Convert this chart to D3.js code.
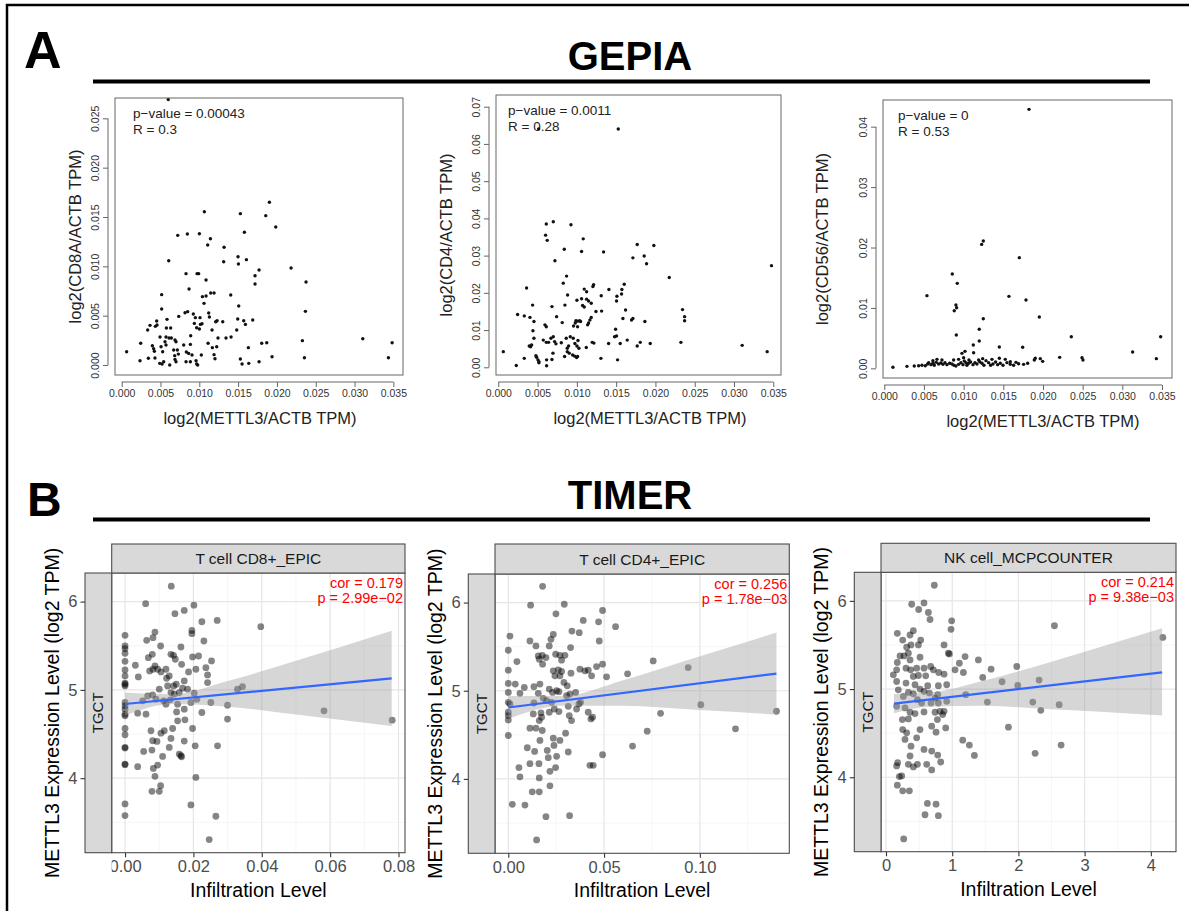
<!DOCTYPE html>
<html>
<head>
<meta charset="utf-8">
<title>METTL3 - GEPIA / TIMER</title>
<script src="https://cdn.jsdelivr.net/npm/d3@7/dist/d3.min.js"></script>
<style>
  body { margin: 0; background: #fff; }
  text { font-family: "Liberation Sans", Arial, Helvetica, sans-serif; }
</style>
</head>
<body>
<svg id="fig" width="1189" height="911"></svg>
<script>
// ---------- data: GEPIA (x = log2(METTL3/ACTB TPM), y = marker) ----------
var gepiaCD8 = [[0.0060,0.0269],[0.01903,0.01649],[0.01065,0.01554],[0.01529,0.01534],[0.01856,0.01514],[0.01985,0.01399],[0.01581,0.01345],[0.00722,0.01314],[0.00846,0.01328],[0.01001,0.01331],[0.01143,0.0128],[0.01108,0.01216],[0.01319,0.01193],[0.01314,0.01047],[0.01499,0.01098],[0.01504,0.01024],[0.01607,0.01068],[0.00606,0.01057],[0.0177,0.00963],[0.02182,0.00983],[0.00829,0.00926],[0.00971,0.00926],[0.00992,0.00926],[0.01718,0.00905],[0.01718,0.00821],[0.02375,0.00841],[0.01087,0.00861],[0.00868,0.0077],[0.00515,0.00713],[0.0104,0.00693],[0.01087,0.00699],[0.01147,0.0073],[0.0119,0.0073],[0.01405,0.00709],[0.01061,0.00625],[0.01508,0.00598],[0.00515,0.00568],[0.02367,0.00544],[0.00816,0.0053],[0.0085,0.00541],[0.00735,0.00493],[0.00923,0.00517],[0.01121,0.00527],[0.0113,0.00486],[0.01229,0.00449],[0.01211,0.00439],[0.01302,0.00439],[0.01495,0.00466],[0.01572,0.00449],[0.01594,0.00412],[0.01688,0.00456],[0.00949,0.0048],[0.01009,0.0048],[0.01035,0.00419],[0.00936,0.00422],[0.00966,0.00378],[0.01001,0.00365],[0.01014,0.00412],[0.01164,0.00355],[0.00451,0.00446],[0.00455,0.00405],[0.00434,0.00392],[0.00365,0.00402],[0.00335,0.00355],[0.00584,0.00463],[0.00576,0.00375],[0.00631,0.00375],[0.00571,0.00284],[0.00494,0.00284],[0.0061,0.00274],[0.0064,0.00274],[0.00687,0.00253],[0.007,0.00236],[0.00558,0.00236],[0.00571,0.00203],[0.00889,0.00297],[0.01241,0.00274],[0.01344,0.00274],[0.01409,0.00284],[0.01482,0.00355],[0.02328,0.00247],[0.03106,0.00267],[0.03484,0.00226],[0.00245,0.0022],[0.00064,0.00135],[0.00395,0.00196],[0.00412,0.00166],[0.00507,0.00186],[0.00799,0.00203],[0.00885,0.00209],[0.01113,0.0022],[0.01224,0.00186],[0.01168,0.00176],[0.01632,0.00176],[0.01804,0.0022],[0.01869,0.00226],[0.00528,0.00135],[0.00421,0.00139],[0.0067,0.00152],[0.00717,0.00152],[0.0073,0.00111],[0.00683,0.00095],[0.00833,0.00132],[0.00863,0.00118],[0.00906,0.00101],[0.01026,0.00101],[0.0119,0.00105],[0.01202,0.00064],[0.01937,0.00084],[0.02354,0.00074],[0.03436,0.00074],[0.00344,0.00068],[0.00236,0.00044],[0.00429,0.00071],[0.0049,0.00017],[0.0052,0.0001],[0.00541,0.00034],[0.00619,0.0],[0.00687,0.00057],[0.007,0.00034],[0.00829,0.00034],[0.00885,0.00034],[0.00966,0.0001],[0.00979,0.0],[0.00958,0.00044],[0.01529,0.00061],[0.01551,0.0001],[0.01637,0.00017],[0.0177,0.00034]];

var gepiaCD4 = [[0.01527,0.0640],[0.00513,0.0640],[0.00925,0.0383],[0.0070,0.0391],[0.00611,0.0385],[0.00602,0.0355],[0.00623,0.0341],[0.01081,0.0345],[0.0084,0.0317],[0.0106,0.0311],[0.0134,0.0310],[0.00721,0.0286],[0.01768,0.0330],[0.0198,0.0327],[0.01713,0.0294],[0.01857,0.0299],[0.01887,0.0278],[0.03477,0.0273],[0.02176,0.0241],[0.00869,0.0245],[0.00827,0.0226],[0.0036,0.0213],[0.00882,0.0194],[0.01094,0.0210],[0.01124,0.0203],[0.01204,0.0217],[0.01213,0.0222],[0.01408,0.0209],[0.01603,0.0223],[0.01573,0.0209],[0.01569,0.0197],[0.0151,0.0191],[0.01505,0.0178],[0.0131,0.0192],[0.01001,0.0180],[0.0106,0.0184],[0.01124,0.0183],[0.01149,0.0178],[0.01183,0.0172],[0.01073,0.0166],[0.01094,0.0162],[0.01243,0.0150],[0.01315,0.0151],[0.0162,0.0154],[0.02345,0.0155],[0.02371,0.0136],[0.02371,0.0125],[0.01713,0.0131],[0.01696,0.0127],[0.01586,0.0131],[0.01866,0.0123],[0.00437,0.0167],[0.00683,0.0163],[0.00848,0.0167],[0.00246,0.0142],[0.00331,0.0138],[0.00403,0.0134],[0.00454,0.0123],[0.00742,0.0136],[0.00814,0.0120],[0.00988,0.0125],[0.01009,0.0124],[0.01035,0.0125],[0.0098,0.0119],[0.01047,0.0123],[0.01166,0.0127],[0.01183,0.0134],[0.01149,0.0119],[0.01137,0.0114],[0.01009,0.0109],[0.00958,0.0111],[0.00594,0.0114],[0.00611,0.0109],[0.00441,0.0098],[0.00454,0.0078],[0.00394,0.0057],[0.00411,0.0055],[0.00424,0.0060],[0.00573,0.0073],[0.00611,0.0067],[0.0064,0.0067],[0.0067,0.0078],[0.0070,0.0082],[0.00717,0.0069],[0.00734,0.0063],[0.00802,0.0066],[0.00865,0.0078],[0.00916,0.0082],[0.00895,0.0057],[0.00954,0.0078],[0.00975,0.0064],[0.01014,0.0072],[0.01001,0.0057],[0.00878,0.0051],[0.00878,0.0042],[0.01196,0.0067],[0.01217,0.0065],[0.01404,0.0064],[0.0148,0.0082],[0.01505,0.0084],[0.01493,0.0102],[0.01552,0.0064],[0.01641,0.0073],[0.01768,0.0057],[0.01807,0.0067],[0.01934,0.0064],[0.02324,0.0067],[0.03104,0.0059],[0.03422,0.0042],[0.00064,0.0042],[0.00229,0.0005],[0.00331,0.0024],[0.00479,0.0031],[0.00488,0.0027],[0.00505,0.0020],[0.00517,0.0015],[0.00517,0.0012],[0.00615,0.0004],[0.00615,0.0020],[0.00683,0.0021],[0.00696,0.0038],[0.00844,0.0029],[0.00903,0.0038],[0.00946,0.0033],[0.00971,0.0030],[0.00997,0.0026],[0.01009,0.0029],[0.01026,0.0051],[0.0112,0.0053],[0.01306,0.0024],[0.01518,0.0020]];

var gepiaCD56 = [[0.01824,0.04287],[0.01248,0.02108],[0.01227,0.02052],[0.01702,0.01832],[0.00857,0.01561],[0.0092,0.01407],[0.00538,0.01203],[0.01571,0.01192],[0.01786,0.01131],[0.00903,0.01048],[0.00912,0.01004],[0.00882,0.00954],[0.01248,0.00822],[0.01954,0.0085],[0.01197,0.00646],[0.00908,0.00552],[0.01197,0.00452],[0.01122,0.00386],[0.02357,0.00524],[0.03483,0.00524],[0.0145,0.00353],[0.01744,0.00348],[0.0313,0.0027],[0.03429,0.0016],[0.0221,0.00182],[0.02492,0.00177],[0.02504,0.00138],[0.01966,0.0016],[0.01996,0.00116],[0.01891,0.00138],[0.01903,0.00166],[0.00979,0.00248],[0.01017,0.00281],[0.01126,0.00259],[0.00874,0.00138],[0.00109,0.00017],[0.00286,0.00033],[0.00378,0.00039],[0.00433,0.00044],[0.00475,0.0005],[0.00517,0.00044],[0.00546,0.00072],[0.00559,0.00094],[0.00588,0.00061],[0.00613,0.00083],[0.0063,0.0005],[0.00655,0.00099],[0.00685,0.00072],[0.00714,0.00088],[0.00739,0.00066],[0.00765,0.00094],[0.0079,0.00061],[0.00824,0.00083],[0.00853,0.00072],[0.00878,0.0005],[0.00903,0.00039],[0.00937,0.00066],[0.00966,0.00094],[0.00992,0.00061],[0.01008,0.00121],[0.01029,0.00094],[0.01042,0.0005],[0.01063,0.00083],[0.01088,0.00105],[0.01118,0.00061],[0.01143,0.00094],[0.01168,0.00072],[0.01202,0.0011],[0.01231,0.00083],[0.01256,0.0005],[0.01282,0.00127],[0.01315,0.00094],[0.0134,0.0005],[0.0137,0.00072],[0.01403,0.00105],[0.01429,0.00061],[0.01462,0.00083],[0.01496,0.0005],[0.01525,0.00149],[0.01546,0.00094],[0.01588,0.00066],[0.0163,0.0005],[0.0166,0.00099],[0.01693,0.00077],[0.01756,0.00066],[0.01807,0.00083],[0.00613,0.00127],[0.00664,0.00149],[0.00727,0.00138],[0.00937,0.00149],[0.0100,0.00177],[0.01067,0.00138],[0.01189,0.00138],[0.0124,0.0016],[0.01357,0.00149],[0.0145,0.00166],[0.01588,0.0011]];

var gepiaStatsCD8 = ['p\u2212value = 0.00043', 'R = 0.3'];
var gepiaStatsCD4 = ['p\u2212value = 0.0011', 'R = 0.28'];
var gepiaStatsCD56 = ['p\u2212value = 0', 'R = 0.53'];

var gepiaXTicks = [0, 0.005, 0.010, 0.015, 0.020, 0.025, 0.030, 0.035];
var gepiaYTicksCD8 = [0, 0.005, 0.010, 0.015, 0.020, 0.025];
var gepiaYTicksCD4 = [0, 0.01, 0.02, 0.03, 0.04, 0.05, 0.06, 0.07];
var gepiaYTicksCD56 = [0, 0.01, 0.02, 0.03, 0.04];

// ---------- data: TIMER (x = infiltration level, y = METTL3 log2 TPM) ----------
var timerCD8 = [[0,5.618],[0,5.497],[0,5.467],[0,5.414],[0,5.324],[0,5.226],[0,5.158],[0,5.075],[0,5.064],[0,5.045],[0,4.857],[0,4.819],[0,4.782],[0,4.725],[0,4.706],[0,4.563],[0,4.492],[0,4.349],[0,4.341],[0,4.16],[0,4.153],[0,3.708],[0,3.576],[0.01353,6.175],[0.00603,5.976],[0.0146,5.863],[0.01732,5.9],[0.02015,5.96],[0.02248,5.772],[0.02696,5.787],[0.03971,5.716],[0.01956,5.674],[0.01956,5.637],[0.02307,5.554],[0.00633,5.561],[0.00818,5.591],[0.00876,5.655],[0.01041,5.497],[0.01635,5.486],[0.00302,5.279],[0.00389,5.147],[0.00681,5.365],[0.00798,5.403],[0.0072,5.215],[0.00818,5.234],[0.00876,5.271],[0.00954,5.234],[0.01051,5.203],[0.01197,5.234],[0.01343,5.403],[0.01421,5.392],[0.0147,5.347],[0.01655,5.29],[0.01859,5.203],[0.01976,5.373],[0.02151,5.384],[0.02073,5.234],[0.02365,5.252],[0.02414,5.169],[0.0253,5.328],[0.02414,5.083],[0.01216,5.132],[0.01294,5.158],[0.01421,5.045],[0.01499,5.064],[0.01732,5.102],[0.01002,5.008],[0.01246,5.045],[0.01343,4.97],[0.0144,4.951],[0.01586,4.97],[0.01684,5.019],[0.0183,5.008],[0.02024,4.962],[0.02102,4.895],[0.01927,4.857],[0.02248,4.744],[0.02511,4.857],[0.02998,4.827],[0.0329,5.008],[0.03436,5.038],[0.02998,4.669],[0.0582,4.763],[0.07815,4.657],[0.0037,4.736],[0.00516,4.876],[0.00662,4.932],[0.00808,4.944],[0.00905,4.895],[0.01129,4.876],[0.01197,4.838],[0.01324,4.887],[0.01538,4.838],[0.01509,4.751],[0.01538,4.65],[0.01732,4.782],[0.01752,4.661],[0.00613,4.725],[0.01392,4.563],[0.01976,4.563],[0.00759,4.537],[0.01051,4.51],[0.01148,4.537],[0.01343,4.45],[0.01732,4.42],[0.00808,4.424],[0.00934,4.416],[0.01294,4.348],[0.02053,4.367],[0.02706,4.367],[0.00545,4.303],[0.00788,4.318],[0.011,4.247],[0.01586,4.273],[0.01635,4.254],[0.01655,4.243],[0.0037,4.13],[0.00827,4.111],[0.00954,4.149],[0.00876,4.021],[0.02073,4.009],[0.00788,3.851],[0.01002,3.851],[0.01041,3.915],[0.01927,3.697],[0.02657,3.569],[0.02462,3.305]];

var timerCD4 = [[0.01791,6.184],[0.01165,5.97],[0.02922,5.981],[0.04922,5.91],[0.02487,5.872],[0.03913,5.797],[0.04713,5.782],[0.056,5.726],[0.03322,5.677],[0.03704,5.658],[0.00087,5.62],[0.02348,5.639],[0.02226,5.583],[0.0113,5.564],[0.01443,5.508],[0.02139,5.508],[0.03252,5.489],[0.04748,5.564],[0,5.459],[0.0247,5.414],[0.02696,5.402],[0.02957,5.402],[0.01565,5.395],[0.01774,5.402],[0.01965,5.376],[0.01617,5.357],[0.00452,5.331],[0.01791,5.301],[0.02783,5.346],[0.07565,5.338],[0.09391,5.263],[0,5.233],[0.03739,5.244],[0.04,5.226],[0.04174,5.233],[0.04609,5.274],[0.04922,5.301],[0.0513,5.158],[0.06226,5.192],[0.02348,5.226],[0.02609,5.237],[0.02783,5.218],[0.02435,5.169],[0.02696,5.169],[0.0327,5.199],[0.04348,5.169],[0,5.083],[0.00365,5.075],[0.00835,5.038],[0.01339,5.045],[0.01652,5.075],[0.01565,4.97],[0.00609,4.97],[0,4.981],[0.02139,5.019],[0.02313,4.981],[0.02522,5.0],[0.02643,4.989],[0.02904,5.094],[0.03078,5.056],[0.03217,4.962],[0.03513,4.981],[0.03043,4.944],[0,4.868],[0.00087,4.85],[0.01339,4.861],[0.01826,4.914],[0.02,4.887],[0.02261,4.868],[0.03687,4.85],[0.03774,4.868],[0.03565,4.793],[0.02139,4.756],[0.01704,4.748],[0.01304,4.737],[0.024,4.793],[0.02643,4.763],[0.0313,4.823],[0.03304,4.662],[0.03183,4.718],[0.04174,4.756],[0.044,4.699],[0.04313,4.68],[0.07948,4.744],[0.10052,4.842],[0.14,4.767],[0,4.756],[0,4.718],[0,4.669],[0.01739,4.699],[0.01617,4.662],[0,4.492],[0.0113,4.575],[0.01443,4.575],[0.01774,4.549],[0.02991,4.519],[0.07252,4.541],[0.11861,4.568],[0.01652,4.436],[0.02348,4.462],[0.02696,4.436],[0.02035,4.323],[0.02383,4.38],[0.0313,4.305],[0.06487,4.372],[0.04922,4.274],[0.00991,4.353],[0.01374,4.312],[0.02087,4.241],[0.02522,4.256],[0.0113,4.173],[0.016,4.173],[0.0247,4.128],[0.00557,4.128],[0.02174,4.086],[0.04261,4.154],[0.04435,4.154],[0.00609,4.023],[0.01617,4.011],[0.02174,3.921],[0.01252,3.853],[0.01617,3.853],[0.00209,3.711],[0.0087,3.703],[0.01965,3.571],[0.032,3.583],[0.01478,3.308]];

var timerNK = [[0.73,6.177],[0.388,5.962],[0.574,5.977],[0.494,5.902],[0.64,5.868],[0.665,5.789],[0.992,5.774],[0.982,5.677],[2.544,5.718],[4.181,5.586],[0.171,5.632],[0.413,5.662],[0.363,5.613],[0.252,5.556],[0.524,5.556],[0.378,5.5],[0.312,5.474],[0.489,5.5],[0.877,5.5],[0.272,5.376],[0.212,5.376],[0.338,5.406],[0.363,5.331],[0.514,5.361],[0.942,5.406],[0.957,5.398],[1.194,5.368],[1.395,5.331],[1.108,5.293],[0.171,5.301],[0.161,5.218],[0.302,5.237],[0.373,5.218],[0.463,5.237],[0.574,5.237],[0.675,5.256],[0.715,5.218],[0.796,5.188],[0.877,5.169],[1.043,5.218],[1.169,5.188],[1.461,5.132],[1.587,5.226],[1.975,5.256],[1.753,5.083],[1.99,5.041],[2.312,5.102],[0.111,5.162],[0.161,5.086],[0.302,5.068],[0.413,5.143],[0.489,5.154],[0.6,5.15],[0.438,5.049],[0.514,5.0],[0.574,4.974],[0.63,5.038],[0.791,5.038],[0.917,5.049],[0.655,4.955],[0.741,4.898],[0.781,4.936],[0.186,4.992],[0.262,4.917],[0.338,4.962],[0.413,4.947],[0.474,4.88],[0.539,4.842],[0.68,4.842],[0.791,4.842],[0.917,4.861],[1.204,4.936],[1.531,4.853],[2.217,4.853],[2.615,4.823],[2.338,4.759],[0.161,4.805],[0.287,4.786],[0.363,4.737],[0.438,4.722],[0.574,4.741],[0.741,4.737],[0.816,4.748],[0.856,4.711],[0.877,4.748],[0.776,4.654],[0.247,4.654],[0.338,4.662],[0.69,4.579],[0.902,4.56],[1.849,4.568],[0.252,4.541],[0.514,4.541],[0.756,4.511],[0.312,4.504],[0.463,4.447],[0.287,4.429],[1.159,4.421],[1.259,4.365],[1.335,4.248],[2.252,4.271],[2.645,4.365],[0.378,4.353],[0.363,4.241],[0.574,4.316],[0.69,4.297],[0.781,4.252],[0.826,4.173],[0.176,4.165],[0.161,4.128],[0.338,4.147],[0.413,4.117],[0.474,4.147],[0.615,4.147],[0.69,4.083],[0.202,4.008],[0.237,4.015],[0.171,3.91],[0.252,3.846],[0.353,3.846],[0.625,3.703],[0.756,3.695],[0.589,3.575],[0.791,3.564],[0.267,3.301]];

// fitted lines (x, y) and their confidence bands (x, lower, upper)
var fitCD8 = [[0, 4.84], [0.078, 5.13]];
var bandCD8 = [[0, 4.71, 4.97], [0.014, 4.84, 4.95], [0.03, 4.81, 5.10], [0.05, 4.72, 5.33], [0.078, 4.59, 5.67]];
var fitCD4 = [[0, 4.81], [0.14, 5.195]];
var bandCD4 = [[0, 4.68, 4.94], [0.028, 4.83, 4.94], [0.06, 4.83, 5.12], [0.10, 4.78, 5.39], [0.14, 4.73, 5.66]];
var fitNK = [[0.12, 4.835], [4.17, 5.19]];
var bandNK = [[0.12, 4.725, 4.945], [0.65, 4.80, 4.96], [1.5, 4.81, 5.10], [2.5, 4.77, 5.31], [3.3, 4.74, 5.49], [4.17, 4.70, 5.69]];

var timerStatsCD8 = ['cor = 0.179', 'p = 2.99e\u221202'];
var timerStatsCD4 = ['cor = 0.256', 'p = 1.78e\u221203'];
var timerStatsNK = ['cor = 0.214', 'p = 9.38e\u221203'];

var timerXTicksCD8 = [0, 0.02, 0.04, 0.06, 0.08];
var timerXTicksCD4 = [0, 0.05, 0.10];
var timerXTicksNK = [0, 1, 2, 3, 4];
var timerYTicks = [4, 5, 6];

// ---------- layout ----------
var gepiaPanels = [
  { pts: gepiaCD8, stats: gepiaStatsCD8, yTicks: gepiaYTicksCD8, yFmt: '.3f', yTitle: 'log2(CD8A/ACTB TPM)',
    box: { l: 115, r: 403, t: 98, b: 375 }, xDom: [-0.00086, 0.03624], yDom: [-0.00101, 0.02706],
    textX: 133, yTitleX: 81, xTitleX: 260 },
  { pts: gepiaCD4, stats: gepiaStatsCD4, yTicks: gepiaYTicksCD4, yFmt: '.2f', yTitle: 'log2(CD4/ACTB TPM)',
    box: { l: 496, r: 781, t: 95, b: 375 }, xDom: [-0.00029, 0.03598], yDom: [-0.00207, 0.07314],
    textX: 508, yTitleX: 452, xTitleX: 650 },
  { pts: gepiaCD56, stats: gepiaStatsCD56, yTicks: gepiaYTicksCD56, yFmt: '.2f', yTitle: 'log2(CD56/ACTB TPM)',
    box: { l: 883, r: 1172, t: 100, b: 378 }, xDom: [-0.00016, 0.03626], yDom: [-0.0016, 0.04442],
    textX: 898, yTitleX: 828, xTitleX: 1043 }
];

var timerYDom = [3.156, 6.324];
var timerPanels = [
  { pts: timerCD8, fit: fitCD8, band: bandCD8, stats: timerStatsCD8, strip: 'T cell CD8+_EPIC',
    xTicks: timerXTicksCD8, xFmt: '.2f', xDom: [-0.0039, 0.0819],
    outerL: 85, l: 111.7, r: 405, stripT: 544, t: 573, b: 852.7, clipL: 111.7 },
  { pts: timerCD4, fit: fitCD4, band: bandCD4, stats: timerStatsCD4, strip: 'T cell CD4+_EPIC',
    xTicks: timerXTicksCD4, xFmt: '.2f', xDom: [-0.00694, 0.1467],
    outerL: 468.3, l: 495, r: 789.3, stripT: 544, t: 574, b: 853.3 },
  { pts: timerNK, fit: fitNK, band: bandNK, stats: timerStatsNK, strip: 'NK cell_MCPCOUNTER',
    xTicks: timerXTicksNK, xFmt: 'd', xDom: [-0.0755, 4.38],
    outerL: 854.3, l: 881, r: 1176, stripT: 543.3, t: 572.3, b: 851.7 }
];

var svg = d3.select('#fig');

// outer frame (only top and left edges show in the crop)
svg.append('path').attr('d', 'M7,911V5H1189').attr('fill', 'none').attr('stroke', '#000').attr('stroke-width', 2.5);

// section headers
function header(letter, lx, ly, lsize, title, ty, lineY) {
  svg.append('text').attr('x', lx).attr('y', ly).attr('font-size', lsize).attr('font-weight', 'bold').text(letter);
  svg.append('text').attr('x', 630).attr('y', ty).attr('font-size', 40).attr('font-weight', 'bold')
    .attr('text-anchor', 'middle').text(title);
  svg.append('line').attr('x1', 93).attr('x2', 1150).attr('y1', lineY).attr('y2', lineY)
    .attr('stroke', '#000').attr('stroke-width', 4);
}
header('A', 24, 68, 52, 'GEPIA', 70, 81.5);
header('B', 27, 516, 48, 'TIMER', 509, 519.5);

// ---------- GEPIA panels (R base graphics look) ----------
gepiaPanels.forEach(function(p) {
  var g = svg.append('g');
  var x = d3.scaleLinear().domain(p.xDom).range([p.box.l, p.box.r]);
  var y = d3.scaleLinear().domain(p.yDom).range([p.box.b, p.box.t]);

  g.append('rect').attr('x', p.box.l).attr('y', p.box.t)
    .attr('width', p.box.r - p.box.l).attr('height', p.box.b - p.box.t)
    .attr('fill', 'none').attr('stroke', '#666').attr('stroke-width', 1);

  // x axis
  var ax = g.append('g').attr('transform', 'translate(0,' + (p.box.b + 7) + ')')
    .call(d3.axisBottom(x).tickValues(gepiaXTicks).tickFormat(d3.format('.3f')).tickSize(5).tickPadding(3));
  ax.select('.domain').remove();
  ax.append('line').attr('x1', x(gepiaXTicks[0])).attr('x2', x(gepiaXTicks[gepiaXTicks.length - 1]))
    .attr('stroke', '#666');
  ax.selectAll('line').attr('stroke', '#666');
  ax.selectAll('text').attr('font-size', 10.5).attr('fill', '#333')
    .style('font-family', '"Liberation Sans", Arial, sans-serif');

  // y axis, labels parallel to the axis
  var ay = g.append('g').attr('transform', 'translate(' + (p.box.l - 7) + ',0)')
    .call(d3.axisLeft(y).tickValues(p.yTicks).tickFormat(d3.format(p.yFmt)).tickSize(5));
  ay.select('.domain').remove();
  ay.append('line').attr('y1', y(p.yTicks[0])).attr('y2', y(p.yTicks[p.yTicks.length - 1]))
    .attr('stroke', '#666');
  ay.selectAll('line').attr('stroke', '#666');
  ay.selectAll('text').attr('transform', 'rotate(-90)').attr('x', 0).attr('y', -9).attr('dy', 0)
    .attr('text-anchor', 'middle').attr('font-size', 10.5).attr('fill', '#333')
    .style('font-family', '"Liberation Sans", Arial, sans-serif');

  // titles
  g.append('text').attr('x', p.xTitleX).attr('y', p.box.b + 49).attr('text-anchor', 'middle')
    .attr('font-size', 16.5).attr('fill', '#222').text('log2(METTL3/ACTB TPM)');
  g.append('text').attr('transform', 'translate(' + p.yTitleX + ',' + ((p.box.t + p.box.b) / 2) + ') rotate(-90)')
    .attr('text-anchor', 'middle').attr('font-size', 16.5).attr('fill', '#222').text(p.yTitle);

  // stats
  g.selectAll('text.stat').data(p.stats).enter().append('text').attr('class', 'stat')
    .attr('x', p.textX).attr('y', function(d, i) { return p.box.t + 20 + i * 16; })
    .attr('font-size', 13.5).attr('fill', '#222').text(function(d) { return d; });

  // points
  g.selectAll('circle').data(p.pts).enter().append('circle')
    .attr('cx', function(d) { return x(d[0]); })
    .attr('cy', function(d) { return y(d[1]); })
    .attr('r', 1.7).attr('fill', '#111');
});

// ---------- TIMER panels (ggplot look) ----------
timerPanels.forEach(function(p, idx) {
  var g = svg.append('g');
  var x = d3.scaleLinear().domain(p.xDom).range([p.l, p.r]);
  var y = d3.scaleLinear().domain(timerYDom).range([p.b, p.t]);

  // panel background + grid
  g.append('rect').attr('x', p.l).attr('y', p.t).attr('width', p.r - p.l).attr('height', p.b - p.t).attr('fill', '#fff');
  var xStep = p.xTicks[1] - p.xTicks[0];
  var xMinor = p.xTicks.map(function(t) { return t + xStep / 2; }).concat([p.xTicks[0] - xStep / 2])
    .filter(function(t) { return t > p.xDom[0] && t < p.xDom[1]; });
  var yMinor = [3.5, 4.5, 5.5];
  g.selectAll('line.xmin').data(xMinor).enter().append('line')
    .attr('x1', x).attr('x2', x).attr('y1', p.t).attr('y2', p.b).attr('stroke', '#f2f2f2').attr('stroke-width', 0.7);
  g.selectAll('line.ymin').data(yMinor).enter().append('line')
    .attr('y1', y).attr('y2', y).attr('x1', p.l).attr('x2', p.r).attr('stroke', '#f2f2f2').attr('stroke-width', 0.7);
  g.selectAll('line.xmaj').data(p.xTicks).enter().append('line')
    .attr('x1', x).attr('x2', x).attr('y1', p.t).attr('y2', p.b).attr('stroke', '#e6e6e6').attr('stroke-width', 1.2);
  g.selectAll('line.ymaj').data(timerYTicks).enter().append('line')
    .attr('y1', y).attr('y2', y).attr('x1', p.l).attr('x2', p.r).attr('stroke', '#e6e6e6').attr('stroke-width', 1.2);

  // points
  g.append('g').selectAll('circle').data(p.pts).enter().append('circle')
    .attr('cx', function(d) { return x(d[0]); })
    .attr('cy', function(d) { return y(d[1]); })
    .attr('r', 3.4).attr('fill', '#000').attr('fill-opacity', 0.48);

  // confidence band + fit
  var area = d3.area().curve(d3.curveMonotoneX)
    .x(function(d) { return x(d[0]); }).y0(function(d) { return y(d[1]); }).y1(function(d) { return y(d[2]); });
  g.append('path').attr('d', area(p.band)).attr('fill', '#999').attr('fill-opacity', 0.4);
  g.append('path').attr('d', d3.line().x(function(d) { return x(d[0]); }).y(function(d) { return y(d[1]); })(p.fit))
    .attr('stroke', '#3366FF').attr('stroke-width', 2.2).attr('fill', 'none');

  // red annotation
  g.selectAll('text.cor').data(p.stats).enter().append('text').attr('class', 'cor')
    .attr('x', p.r - 2).attr('y', function(d, i) { return p.t + 15 + i * 15; })
    .attr('text-anchor', 'end').attr('font-size', 14.5).attr('fill', '#ff0000').text(function(d) { return d; });

  // panel border
  g.append('rect').attr('x', p.l).attr('y', p.t).attr('width', p.r - p.l).attr('height', p.b - p.t)
    .attr('fill', 'none').attr('stroke', '#4d4d4d').attr('stroke-width', 1.1);

  // left strip (TGCT) and top strip
  g.append('rect').attr('x', p.outerL).attr('y', p.t).attr('width', p.l - p.outerL).attr('height', p.b - p.t)
    .attr('fill', '#d9d9d9').attr('stroke', '#4d4d4d').attr('stroke-width', 1.1);
  g.append('text').attr('transform', 'translate(' + ((p.outerL + p.l) / 2 + 5) + ',' + ((p.t + p.b) / 2) + ') rotate(-90)')
    .attr('text-anchor', 'middle').attr('font-size', 15).attr('fill', '#1a1a1a').text('TGCT');
  g.append('rect').attr('x', p.l).attr('y', p.stripT).attr('width', p.r - p.l).attr('height', p.t - p.stripT)
    .attr('fill', '#d9d9d9').attr('stroke', '#4d4d4d').attr('stroke-width', 1.1);
  g.append('text').attr('x', (p.l + p.r) / 2).attr('y', (p.stripT + p.t) / 2 + 5.5)
    .attr('text-anchor', 'middle').attr('font-size', 15.5).attr('fill', '#1a1a1a').text(p.strip);

  // axes
  var clipId = 'clip' + idx;
  svg.append('clipPath').attr('id', clipId).append('rect')
    .attr('x', p.clipL || 0).attr('y', p.b).attr('width', 1189).attr('height', 60);
  var ax = g.append('g').attr('clip-path', 'url(#' + clipId + ')').append('g')
    .attr('transform', 'translate(0,' + p.b + ')')
    .call(d3.axisBottom(x).tickValues(p.xTicks).tickFormat(d3.format(p.xFmt)).tickSize(4.5).tickPadding(3));
  ax.select('.domain').remove();
  ax.selectAll('line').attr('stroke', '#333').attr('stroke-width', 1.1);
  ax.selectAll('text').attr('font-size', 16.5).attr('fill', '#4d4d4d')
    .style('font-family', '"Liberation Sans", Arial, sans-serif');

  var ay = g.append('g').attr('transform', 'translate(' + p.outerL + ',0)')
    .call(d3.axisLeft(y).tickValues(timerYTicks).tickFormat(d3.format('d')).tickSize(4.5).tickPadding(3));
  ay.select('.domain').remove();
  ay.selectAll('line').attr('stroke', '#333').attr('stroke-width', 1.1);
  ay.selectAll('text').attr('font-size', 16.5).attr('fill', '#4d4d4d')
    .style('font-family', '"Liberation Sans", Arial, sans-serif');

  // axis titles
  g.append('text').attr('x', (p.l + p.r) / 2).attr('y', p.b + 44).attr('text-anchor', 'middle')
    .attr('font-size', 19.5).attr('fill', '#000').text('Infiltration Level');
  g.append('text').attr('transform', 'translate(' + (p.outerL - 26) + ',' + ((p.t + p.b) / 2) + ') rotate(-90)')
    .attr('text-anchor', 'middle').attr('font-size', 19.5).attr('fill', '#000').text('METTL3 Expression Level (log2 TPM)');
});
</script>
</body>
</html>
